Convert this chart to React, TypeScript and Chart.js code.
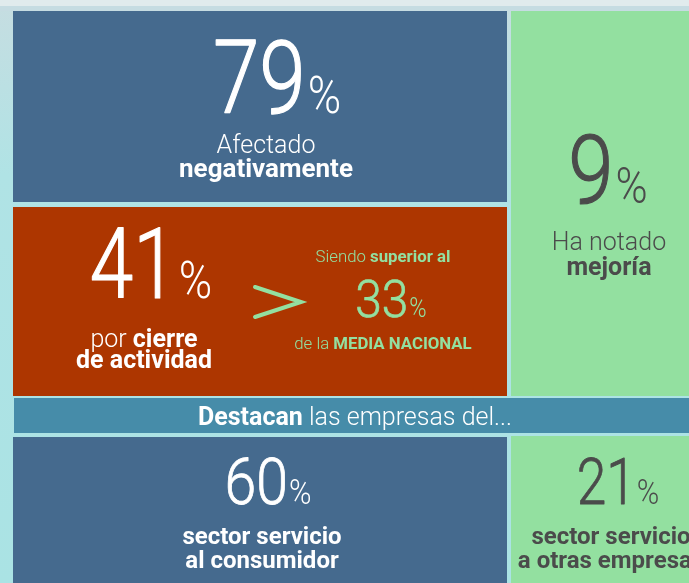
import React, { useEffect, useRef } from "react";
import { Chart, registerables } from "chart.js";

Chart.register(...registerables);

// ---- data ----
const tileKeys = ["afectado", "mejoria", "cierre", "media", "consumidor", "otras"];
const tileValues = [79, 9, 41, 33, 60, 21];
const tileLines: { t: string; b: boolean }[][][] = [
  [[{ t: "Afectado", b: false }], [{ t: "negativamente", b: true }]],
  [[{ t: "Ha notado", b: false }], [{ t: "mejoría", b: true }]],
  [[{ t: "por ", b: false }, { t: "cierre", b: true }], [{ t: "de actividad", b: true }]],
  [[{ t: "Siendo ", b: false }, { t: "superior al", b: true }], [{ t: "de la ", b: false }, { t: "MEDIA NACIONAL", b: true }]],
  [[{ t: "sector servicio", b: true }], [{ t: "al consumidor", b: true }]],
  [[{ t: "sector servicio", b: true }], [{ t: "a otras empresas", b: true }]],
];
const bannerParts = [
  { t: "Destacan", b: true },
  { t: " las empresas del...", b: false },
];

// ---- layout & style (not data) ----
const BLUE = "#456a8e";
const GREEN = "#93e0a0";
const RED = "#ad3600";
const TEAL = "#468ca9";
const WHITE = "#ffffff";
const DARK = "#4b4b4b";

const rects = [
  { x0: 13, x1: 507, y0: 11, y1: 202, c: BLUE },
  { x0: 511, x1: 712, y0: 11, y1: 396, c: GREEN },
  { x0: 13, x1: 507, y0: 207, y1: 396, c: RED },
  { x0: 14, x1: 712, y0: 398, y1: 433, c: TEAL },
  { x0: 13, x1: 507, y0: 437, y1: 583, c: BLUE },
  { x0: 511, x1: 712, y0: 436, y1: 583, c: GREEN },
];

// per tile: number center/baseline/size/compress, lines center/baselines/size, colour
const tileLayout = [
  { nx: 277, ny: 113, ns: 102, nsx: 0.82, ps: 52, lx: 266, l1: 153, l2: 177, ls: 25, bs: 26, col: WHITE },
  { nx: 608, ny: 203, ns: 96, nsx: 0.85, ps: 50, lx: 609, l1: 250, l2: 275, ls: 25, bs: 25, col: DARK },
  { nx: 151, ny: 298, ns: 98, nsx: 0.8, ps: 52, lx: 144, l1: 347, l2: 368, ls: 25, bs: 25, col: WHITE },
  { nx: 391, ny: 317, ns: 52, nsx: 0.92, ps: 27, lx: 383, l1: 262, l2: 349, ls: 16.8, bs: 16.8, col: GREEN },
  { nx: 268, ny: 504, ns: 65, nsx: 0.88, ps: 35, lx: 262, l1: 544, l2: 568, ls: 24, bs: 24, col: WHITE },
  { nx: 618, ny: 504, ns: 65, nsx: 0.82, ps: 35, lx: 611, l1: 544, l2: 568, ls: 24, bs: 24, col: DARK },
];

const FF = "Roboto, 'Open Sans', sans-serif";

type Part = { text: string; font: string; sx?: number; gap?: number; thicken?: number };

function drawParts(ctx: CanvasRenderingContext2D, parts: Part[], cx: number, base: number, color: string) {
  let total = 0;
  const widths = parts.map((p) => {
    ctx.font = p.font;
    const w = ctx.measureText(p.text).width * (p.sx ?? 1) + (p.gap ?? 0);
    total += w;
    return w;
  });
  let x = cx - total / 2;
  ctx.fillStyle = color;
  ctx.strokeStyle = color;
  ctx.textBaseline = "alphabetic";
  ctx.textAlign = "left";
  parts.forEach((p, i) => {
    ctx.font = p.font;
    ctx.save();
    ctx.translate(x + (p.gap ?? 0), base);
    ctx.scale(p.sx ?? 1, 1);
    ctx.fillText(p.text, 0, 0);
    if (p.thicken) {
      ctx.lineWidth = p.thicken;
      ctx.lineJoin = "round";
      ctx.strokeText(p.text, 0, 0);
    }
    ctx.restore();
    x += widths[i];
  });
}

const infographicPlugin = {
  id: "infographic",
  beforeDraw(chart: any) {
    const ctx: CanvasRenderingContext2D = chart.ctx;
    const xs = chart.scales.x;
    const ys = chart.scales.y;
    const W = chart.width;
    const H = chart.height;
    ctx.save();
    const g = ctx.createLinearGradient(0, 0, 0, H);
    g.addColorStop(0, "#c6dde1");
    g.addColorStop(0.3, "#b0e3e5");
    g.addColorStop(1, "#aae3e4");
    ctx.fillStyle = g;
    ctx.fillRect(0, 0, W, H);
    ctx.fillStyle = "#e1ebed";
    ctx.fillRect(0, 0, W, 6);
    ctx.fillStyle = "#c6dce2";
    ctx.fillRect(0, 6, W, 5);
    rects.forEach((r) => {
      const x0 = xs.getPixelForValue(r.x0);
      const x1 = xs.getPixelForValue(r.x1);
      const y0 = ys.getPixelForValue(r.y0);
      const y1 = ys.getPixelForValue(r.y1);
      ctx.fillStyle = r.c;
      ctx.fillRect(x0, y0, x1 - x0, y1 - y0);
    });
    ctx.restore();
  },
  afterDraw(chart: any) {
    const ctx: CanvasRenderingContext2D = chart.ctx;
    const xs = chart.scales.x;
    const ys = chart.scales.y;
    ctx.save();
    tileValues.forEach((v, i) => {
      const L = tileLayout[i];
      drawParts(
        ctx,
        [
          { text: String(v), font: `300 ${L.ns}px ${FF}`, sx: L.nsx, thicken: L.ns / 80 },
          { text: "%", font: `300 ${L.ps}px ${FF}`, sx: 0.87, gap: Math.round(L.ps * 0.04) },
        ],
        xs.getPixelForValue(L.nx),
        ys.getPixelForValue(L.ny),
        L.col
      );
      const lines = tileLines[i];
      [L.l1, L.l2].forEach((b, j) => {
        const parts = lines[j].map((p) => ({
          text: p.t,
          font: `${p.b ? 700 : 300} ${p.b ? L.bs : L.ls}px ${FF}`,
        }));
        drawParts(ctx, parts, xs.getPixelForValue(L.lx), ys.getPixelForValue(b), L.col);
      });
    });
    // chevron ">"
    ctx.strokeStyle = GREEN;
    ctx.lineWidth = 4;
    ctx.lineCap = "round";
    ctx.lineJoin = "miter";
    ctx.beginPath();
    ctx.moveTo(xs.getPixelForValue(255), ys.getPixelForValue(287));
    ctx.lineTo(xs.getPixelForValue(301), ys.getPixelForValue(302));
    ctx.lineTo(xs.getPixelForValue(255), ys.getPixelForValue(317));
    ctx.stroke();
    // banner
    drawParts(
      ctx,
      bannerParts.map((p) => ({ text: p.t, font: `${p.b ? 700 : 300} 25px ${FF}` })),
      xs.getPixelForValue(355),
      ys.getPixelForValue(425),
      WHITE
    );
    ctx.restore();
  },
};

export default function App() {
  const ref = useRef<HTMLCanvasElement | null>(null);
  useEffect(() => {
    if (!ref.current) return;
    const chart = new Chart(ref.current, {
      type: "scatter",
      data: {
        labels: tileKeys,
        datasets: [
          {
            label: "tiles",
            data: tileValues.map((v, i) => ({ x: tileLayout[i].nx, y: tileLayout[i].ny })),
            pointRadius: 0,
          },
        ],
      },
      options: {
        responsive: false,
        animation: false,
        devicePixelRatio: 1,
        layout: { padding: 0 },
        plugins: { legend: { display: false }, tooltip: { enabled: false } },
        events: [],
        scales: {
          x: { type: "linear", min: 0, max: 689, display: false },
          y: { type: "linear", min: 0, max: 583, reverse: true, display: false },
        },
      },
      plugins: [infographicPlugin],
    });
    return () => chart.destroy();
  }, []);
  return (
    <div style={{ position: "fixed", left: 0, top: 0, width: 689, height: 583 }}>
      <canvas ref={ref} width={689} height={583} style={{ display: "block" }} />
    </div>
  );
}
